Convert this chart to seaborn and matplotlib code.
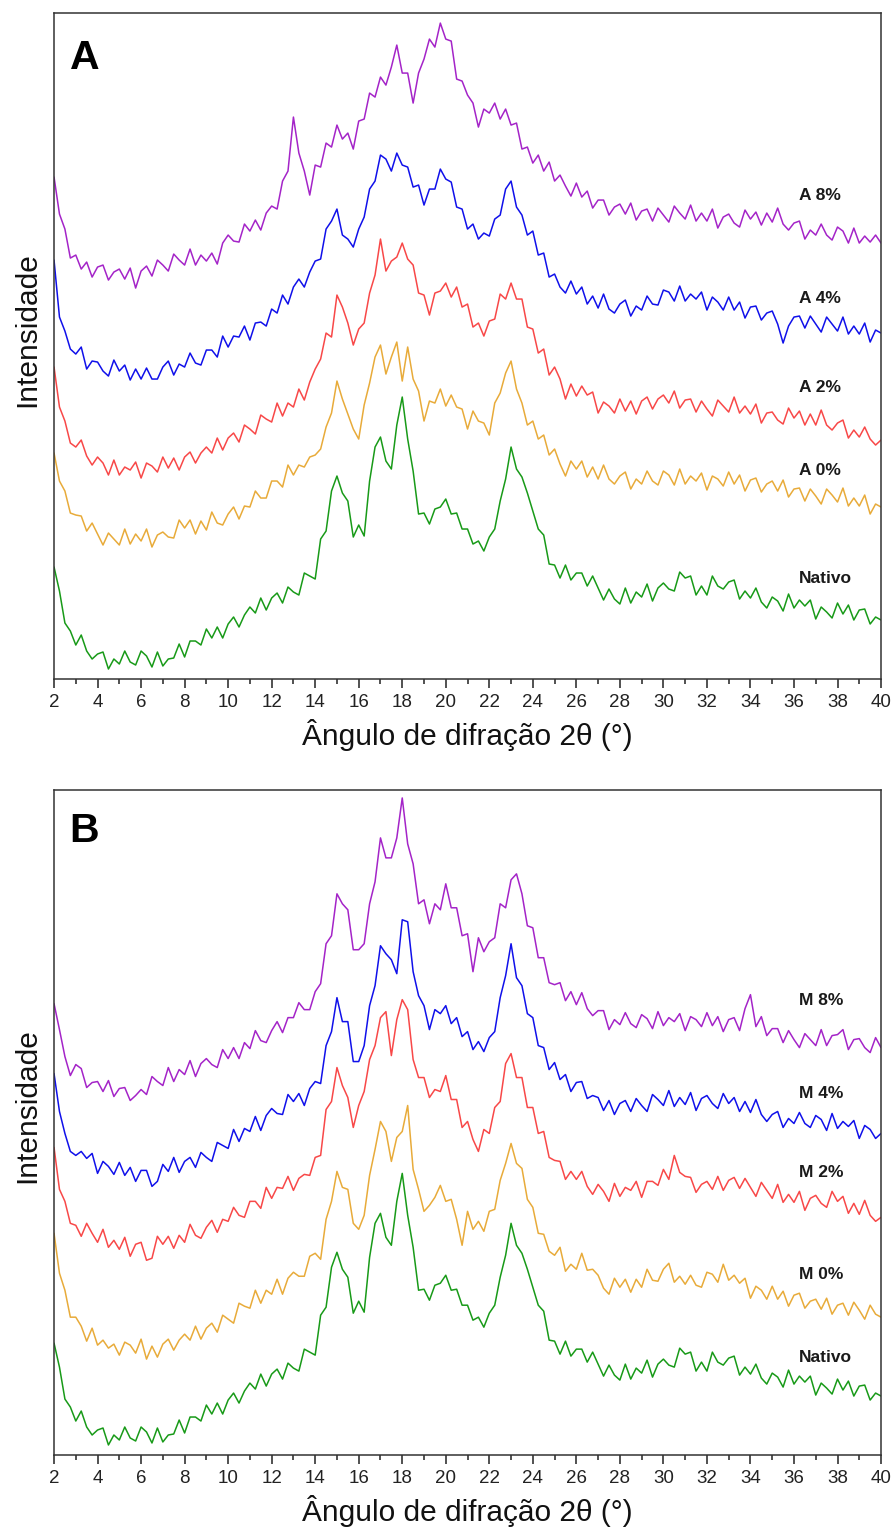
import numpy as np
import pandas as pd
import matplotlib
matplotlib.use("Agg")
import matplotlib.pyplot as plt
import seaborn as sns

# 2theta grid, 0.25 deg steps from 2 to 40
two_theta = np.round(np.arange(2, 40.001, 0.25), 2)

# intensities (a.u.), one row per degree
nativo = [
    112, 88, 56, 48,
    34, 44, 28, 20,
    25, 27, 10, 20,
    15, 28, 17, 14,
    28, 23, 12, 27,
    13, 20, 21, 35,
    22, 38, 38, 34,
    50, 41, 52, 41,
    55, 62, 52, 64,
    72, 66, 81, 69,
    81, 86, 76, 92,
    87, 84, 106, 103,
    100, 140, 148, 188,
    203, 186, 178, 142,
    154, 143, 198, 232,
    242, 218, 210, 254,
    282, 240, 208, 165,
    166, 155, 170, 172,
    180, 165, 166, 150,
    150, 135, 138, 128,
    142, 150, 178, 200,
    232, 210, 202, 186,
    168, 150, 144, 115,
    114, 101, 114, 99,
    106, 106, 93, 103,
    91, 79, 90, 80,
    75, 91, 76, 87,
    82, 95, 78, 91,
    96, 90, 88, 107,
    101, 103, 84, 93,
    84, 103, 93, 90,
    97, 99, 80, 88,
    81, 91, 77, 71,
    82, 78, 68, 85,
    71, 79, 73, 79,
    60, 72, 67, 61,
    76, 65, 74, 59,
    69, 70, 55, 62,
    59,
]

a_0 = [
    226, 198, 188, 166,
    164, 163, 148, 156,
    145, 134, 146, 140,
    134, 150, 135, 145,
    138, 150, 132, 144,
    147, 142, 141, 159,
    151, 159, 145, 158,
    149, 167, 156, 154,
    165, 172, 160, 173,
    172, 188, 181, 181,
    198, 198, 192, 214,
    204, 214, 212, 222,
    224, 230, 252, 266,
    298, 280, 265, 250,
    240, 274, 296, 322,
    334, 305, 322, 337,
    298, 332, 300, 288,
    258, 278, 276, 290,
    273, 284, 272, 270,
    250, 268, 258, 256,
    244, 276, 286, 306,
    318, 290, 276, 254,
    258, 240, 244, 224,
    230, 215, 203, 218,
    210, 218, 202, 212,
    200, 214, 200, 195,
    203, 207, 190, 200,
    195, 208, 198, 194,
    208, 204, 194, 210,
    195, 203, 198, 206,
    189, 203, 200, 193,
    207, 195, 204, 188,
    199, 201, 187, 195,
    198, 188, 199, 182,
    190, 191, 178, 190,
    183, 175, 190, 184,
    177, 191, 173, 181,
    173, 184, 165, 175,
    172,
]

a_2 = [
    312, 272, 258, 236,
    232, 239, 223, 214,
    222, 216, 204, 219,
    204, 212, 209, 217,
    201, 216, 213, 207,
    222, 211, 221, 209,
    222, 227, 216, 226,
    232, 226, 241, 229,
    241, 246, 237, 254,
    250, 245, 264, 260,
    257, 276, 263, 276,
    272, 290, 279, 297,
    310, 320, 346, 342,
    384, 372, 356, 334,
    350, 356, 386, 404,
    440, 408, 418, 422,
    436, 420, 414, 386,
    384, 364, 386, 388,
    396, 382, 392, 372,
    375, 352, 356, 343,
    358, 360, 385, 380,
    396, 380, 380, 352,
    350, 326, 330, 304,
    312, 300, 280, 295,
    283, 293, 284, 287,
    266, 277, 273, 266,
    280, 268, 278, 265,
    278, 282, 270, 280,
    284, 276, 288, 271,
    279, 280, 267, 278,
    270, 263, 279, 273,
    267, 282, 266, 273,
    265, 275, 256, 266,
    267, 259, 255, 271,
    261, 268, 254, 265,
    254, 269, 254, 249,
    256, 259, 241, 249,
    242, 252, 240, 234,
    239,
]

a_4 = [
    419, 362, 348, 330,
    325, 332, 310, 318,
    317, 308, 303, 319,
    308, 314, 299, 310,
    300, 311, 300, 300,
    312, 318, 304, 315,
    312, 326, 316, 314,
    329, 329, 322, 343,
    332, 343, 342, 353,
    339, 356, 357, 353,
    370, 366, 384, 375,
    392, 400, 392, 407,
    418, 420, 450, 458,
    470, 444, 440, 432,
    450, 462, 490, 498,
    524, 520, 508, 526,
    514, 512, 492, 494,
    474, 490, 490, 510,
    500, 497, 472, 470,
    450, 455, 440, 446,
    443, 460, 464, 490,
    498, 472, 464, 444,
    448, 424, 426, 402,
    405, 392, 386, 398,
    385, 392, 375, 383,
    371, 385, 370, 366,
    375, 379, 363, 373,
    369, 383, 375, 374,
    389, 387, 378, 393,
    378, 385, 380, 387,
    369, 382, 377, 369,
    382, 369, 377, 361,
    372, 373, 359, 366,
    368, 355, 336, 353,
    362, 363, 351, 363,
    355, 347, 362, 355,
    348, 362, 345, 353,
    345, 356, 337, 349,
    346,
]

a_8 = [
    502, 465, 450, 421,
    424, 410, 417, 402,
    412, 414, 399, 407,
    410, 400, 411, 391,
    408, 413, 403, 419,
    414, 408, 425, 419,
    414, 430, 414, 424,
    418, 426, 415, 436,
    444, 438, 437, 455,
    448, 459, 449, 466,
    473, 470, 498, 508,
    562, 526, 508, 484,
    514, 512, 536, 532,
    554, 540, 546, 530,
    558, 560, 586, 582,
    602, 594, 612, 634,
    606, 606, 576, 606,
    620, 640, 632, 656,
    640, 638, 600, 598,
    584, 576, 552, 570,
    566, 576, 560, 570,
    554, 556, 530, 532,
    516, 524, 508, 517,
    498, 504, 493, 483,
    496, 482, 488, 471,
    479, 479, 464, 472,
    475, 465, 476, 459,
    468, 470, 458, 471,
    464, 457, 473, 466,
    460, 474, 458, 466,
    458, 470, 451, 462,
    465, 456, 452, 469,
    460, 467, 454, 466,
    457, 471, 455, 449,
    456, 458, 440, 449,
    444, 455, 444, 439,
    452, 448, 436, 451,
    436, 443, 437, 444,
    436,
]

m_0 = [
    222, 182, 165, 138,
    138, 129, 114, 127,
    110, 115, 107, 111,
    100, 113, 110, 102,
    116, 96, 109, 98,
    111, 116, 105, 115,
    121, 115, 129, 116,
    127, 132, 123, 140,
    136, 132, 152, 149,
    147, 165, 152, 165,
    161, 176, 161, 177,
    183, 179, 179, 199,
    202, 196, 236, 254,
    284, 268, 266, 232,
    226, 240, 280, 306,
    334, 324, 294, 318,
    324, 350, 286, 266,
    244, 250, 258, 270,
    254, 256, 236, 210,
    244, 226, 234, 224,
    244, 246, 275, 292,
    312, 292, 287, 256,
    248, 222, 221, 204,
    200, 208, 184, 191,
    186, 202, 185, 186,
    180, 167, 161, 177,
    168, 176, 163, 176,
    168, 186, 175, 174,
    186, 192, 173, 179,
    171, 180, 170, 168,
    183, 181, 173, 191,
    175, 180, 172, 177,
    157, 169, 165, 156,
    169, 156, 164, 149,
    160, 162, 147, 154,
    156, 146, 157, 141,
    150, 152, 140, 153,
    145, 136, 150, 141,
    138,
]

m_2 = [
    308, 266, 254, 232,
    230, 219, 232, 222,
    213, 226, 208, 215,
    206, 218, 199, 211,
    213, 195, 197, 219,
    211, 219, 207, 220,
    213, 231, 220, 217,
    228, 235, 223, 236,
    234, 248, 240, 238,
    254, 254, 247, 268,
    257, 268, 267, 279,
    265, 277, 281, 280,
    298, 300, 346, 354,
    388, 370, 358, 328,
    350, 364, 396, 410,
    438, 444, 400, 436,
    456, 446, 396, 378,
    378, 358, 366, 364,
    380, 356, 356, 328,
    334, 316, 304, 326,
    322, 348, 354, 392,
    402, 378, 378, 348,
    348, 322, 324, 298,
    295, 294, 276, 284,
    276, 284, 269, 261,
    271, 264, 254, 272,
    259, 268, 265, 274,
    258, 274, 274, 270,
    286, 276, 300, 283,
    279, 278, 263, 271,
    274, 266, 279, 265,
    275, 278, 267, 277,
    268, 259, 273, 265,
    257, 271, 253, 261,
    253, 264, 245, 257,
    260, 252, 248, 264,
    254, 259, 242, 252,
    241, 255, 240, 234,
    238,
]

m_4 = [
    382, 344, 322, 304,
    300, 304, 297, 302,
    282, 294, 289, 281,
    293, 280, 288, 274,
    285, 285, 269, 274,
    291, 284, 298, 283,
    294, 298, 288, 303,
    298, 294, 313, 310,
    307, 326, 314, 327,
    324, 339, 325, 340,
    347, 342, 341, 361,
    354, 362, 350, 367,
    374, 372, 410, 424,
    458, 434, 434, 394,
    394, 410, 450, 470,
    510, 502, 496, 482,
    536, 534, 484, 460,
    450, 426, 446, 442,
    450, 432, 438, 419,
    424, 406, 414, 404,
    418, 424, 458, 480,
    512, 478, 470, 442,
    438, 410, 408, 386,
    393, 376, 381, 364,
    373, 374, 357, 360,
    358, 345, 355, 341,
    352, 355, 344, 357,
    350, 344, 361, 356,
    350, 365, 349, 358,
    351, 363, 345, 357,
    360, 352, 347, 362,
    352, 358, 344, 354,
    343, 356, 341, 334,
    341, 344, 328, 337,
    332, 343, 332, 328,
    340, 336, 325, 342,
    327, 334, 329, 335,
    317, 330, 326, 317,
    322,
]

m_8 = [
    452, 426, 399, 380,
    391, 387, 368, 373,
    374, 364, 375, 359,
    367, 368, 355, 360,
    366, 361, 379, 374,
    370, 388, 374, 386,
    381, 395, 379, 392,
    397, 391, 388, 406,
    397, 408, 397, 413,
    407, 425, 415, 413,
    425, 434, 423, 438,
    438, 453, 446, 446,
    464, 472, 512, 520,
    562, 552, 546, 506,
    506, 512, 552, 574,
    618, 598, 598, 618,
    658, 612, 592, 552,
    556, 532, 552, 546,
    572, 548, 548, 520,
    522, 484, 518, 504,
    514, 518, 552, 548,
    576, 582, 562, 530,
    528, 498, 498, 473,
    471, 473, 455, 464,
    451, 463, 447, 440,
    445, 445, 426, 436,
    431, 443, 432, 428,
    441, 437, 427, 444,
    430, 438, 434, 442,
    425, 439, 436, 429,
    443, 430, 439, 424,
    436, 438, 425, 447,
    461, 429, 439, 420,
    427, 427, 413, 425,
    416, 408, 422, 416,
    410, 426, 410, 420,
    421, 426, 406, 416,
    417, 408, 403, 418,
    408,
]

series_a = ["Nativo", "A 0%", "A 2%", "A 4%", "A 8%"]
series_b = ["Nativo", "M 0%", "M 2%", "M 4%", "M 8%"]
values_a = [nativo, a_0, a_2, a_4, a_8]
values_b = [nativo, m_0, m_2, m_4, m_8]

colors = ["#189a18", "#e8ab3a", "#f84848", "#1010ea", "#a424c8"]
# label heights beside each curve, in intensity units
label_y_a = [101, 209, 292, 381, 484]
label_y_b = [98, 181, 283, 362, 455]


def draw_panel(ax, names, values, label_y, letter, letter_y):
    for name, vals, col in zip(names, values, colors):
        df = pd.DataFrame({"theta": two_theta, "intensity": vals})
        sns.lineplot(data=df, x="theta", y="intensity", color=col,
                     linewidth=1.1, estimator=None, ax=ax)
    for name, ly in zip(names, label_y):
        ax.text(36.22, ly, name, fontsize=12.5, fontweight="bold",
                ha="left", va="center", color="#1a1a1a")
    ax.text(0.019, letter_y, letter, transform=ax.transAxes, fontsize=29.5,
            fontweight="bold", ha="left", va="baseline", color="black")

    ax.set_xlim(2, 40)
    ax.set_ylim(0, 666)
    ax.set_xticks(np.arange(2, 41, 2))
    ax.set_xticks(np.arange(3, 40, 2), minor=True)
    ax.set_yticks([])
    ax.tick_params(axis="x", which="major", direction="out", length=6.5,
                   width=1.1, labelsize=13.5, pad=4, colors="#222222")
    ax.tick_params(axis="x", which="minor", direction="out", length=3.6,
                   width=1.1, colors="#222222")
    for sp in ax.spines.values():
        sp.set_linewidth(1.1)
        sp.set_color("#333333")
    ax.set_xlabel("Ângulo de difração 2θ (°)", fontsize=21.5, labelpad=6,
                  color="#111111")
    ax.set_ylabel("Intensidade", fontsize=21.5, color="#111111")
    ax.yaxis.set_label_coords(-0.015, 0.525)


sns.set_theme(style="ticks")
plt.rcParams["font.family"] = ["Liberation Sans", "DejaVu Sans"]

for arr in [nativo, a_0, a_2, a_4, a_8, m_0, m_2, m_4, m_8]:
    assert len(arr) == len(two_theta)

fig = plt.figure(figsize=(8.96, 15.39), dpi=100)
ax_a = fig.add_axes([0.0603, 0.5588, 0.923, 0.4327])
ax_b = fig.add_axes([0.0603, 0.0546, 0.923, 0.4321])

draw_panel(ax_a, series_a, values_a, label_y_a, "A", 0.916)
draw_panel(ax_b, series_b, values_b, label_y_b, "B", 0.922)

fig.savefig("out.png", dpi=100, facecolor="white")
